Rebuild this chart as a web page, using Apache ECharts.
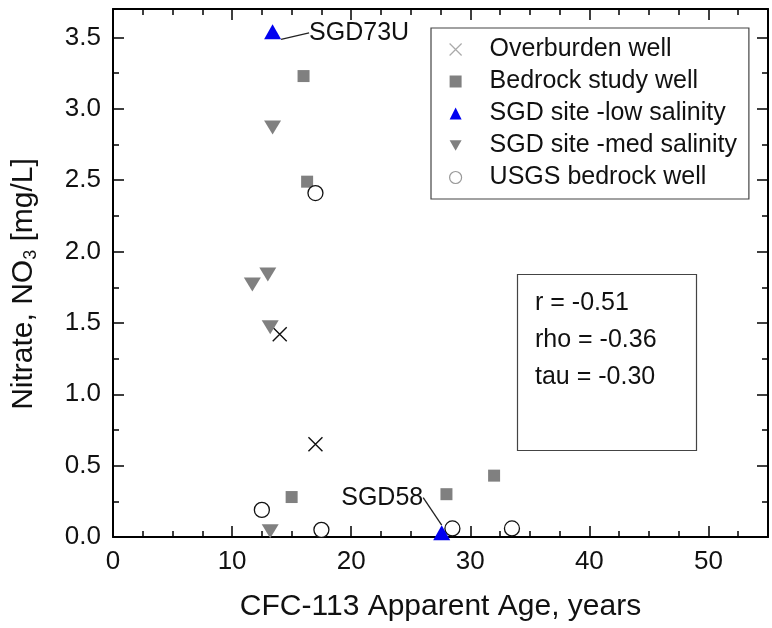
<!DOCTYPE html>
<html>
<head>
<meta charset="utf-8">
<script src="https://cdn.jsdelivr.net/npm/echarts@6/dist/echarts.min.js"></script>
<style>html,body{margin:0;padding:0;background:#fff}#c{width:772px;height:628px}</style>
</head>
<body>
<div id="c"></div>
<script>
// ---- data ----
const overburdenWell = [[14.0, 1.42], [17.0, 0.65]];
const bedrockStudyWell = [[16.0, 3.23], [16.3, 2.49], [15.0, 0.28], [28.0, 0.30], [32.0, 0.43]];
const sgdLowSalinity = [[13.4, 3.54], [27.6, 0.03]];
const sgdLowLabels = ['SGD73U', 'SGD58'];
const sgdMedSalinity = [[13.4, 2.87], [13.0, 1.84], [11.7, 1.77], [13.2, 1.47], [13.2, 0.04]];
const usgsBedrockWell = [[17.0, 2.41], [12.5, 0.19], [17.5, 0.05], [28.5, 0.06], [33.5, 0.06]];
const seriesNames = ['Overburden well', 'Bedrock study well', 'SGD site -low salinity', 'SGD site -med salinity', 'USGS bedrock well'];
const statsLines = ['r = -0.51', 'rho = -0.36', 'tau = -0.30'];
const xRange = [0, 55], xMajor = 10, xMinor = 2.5;
const yRange = [0, 3.7], yMajor = 0.5, yMinor = 0.25;

const FONT = '"Liberation Sans", Arial, Helvetica, sans-serif';
const INK = '#111';
const GRAY = '#808080';
const BLUE = '#0000f0';

function makeAxis(kind, pos, interval, major, withLabels) {
  const rng = kind === 'x' ? xRange : yRange;
  const ax = {
    type: 'value', position: pos, min: rng[0], max: rng[1], interval: interval,
    gridIndex: 0,
    splitLine: { show: false },
    axisLine: { show: major, onZero: false, lineStyle: { color: '#000', width: 2 } },
    axisTick: { show: true, inside: true, length: major ? 11 : 6, lineStyle: { color: '#000', width: 1.5 } },
    axisLabel: { show: withLabels }
  };
  if (withLabels) {
    ax.axisLabel = {
      show: true, margin: 12, fontSize: 26, color: INK, fontFamily: FONT,
      showMaxLabel: false,
      formatter: kind === 'x' ? (v => String(v)) : (v => v.toFixed(1))
    };
  }
  return ax;
}

const xAxes = [
  makeAxis('x', 'bottom', xMajor, true, true),
  makeAxis('x', 'bottom', xMinor, false, false),
  makeAxis('x', 'top', xMajor, true, false),
  makeAxis('x', 'top', xMinor, false, false)
];
Object.assign(xAxes[0], {
  name: 'CFC-113 Apparent Age, years', nameLocation: 'middle', nameGap: 55,
  nameTextStyle: { fontSize: 30, color: INK, fontFamily: FONT }
});
const yAxes = [
  makeAxis('y', 'left', yMajor, true, true),
  makeAxis('y', 'left', yMinor, false, false),
  makeAxis('y', 'right', yMajor, true, false),
  makeAxis('y', 'right', yMinor, false, false)
];
Object.assign(yAxes[0], {
  name: 'Nitrate, NO{sub|3} [mg/L]', nameLocation: 'middle', nameGap: 73,
  nameTextStyle: { fontSize: 30, color: INK, fontFamily: FONT, padding: [0, 22, 0, 0],
    rich: { sub: { fontSize: 18, color: INK, fontFamily: FONT, padding: [15, 0, 0, 0] } } }
});

const option = {
  animation: false,
  backgroundColor: '#fff',
  grid: { left: 113, right: 4, top: 9, bottom: 91, containLabel: false },
  xAxis: xAxes,
  yAxis: yAxes,
  title: {
    text: statsLines.join('\n'), left: 517, top: 274,
    padding: [11, 40, 55, 18],
    borderColor: '#444', borderWidth: 1.2, backgroundColor: '#fff',
    textStyle: { fontSize: 25, fontWeight: 'normal', lineHeight: 37, color: INK, fontFamily: FONT }
  },
  legend: {
    orient: 'vertical', left: 431, top: 28,
    padding: [9, 12, 9, 18], itemGap: 7, itemWidth: 12, itemHeight: 12,
    borderColor: '#444', borderWidth: 1.2, backgroundColor: '#fff',
    textStyle: { fontSize: 25, color: INK, fontFamily: FONT, padding: [0, 0, 0, 23] },
    data: [
      { name: seriesNames[0], itemStyle: { color: '#aaa', borderColor: '#aaa', borderWidth: 1.2 } },
      { name: seriesNames[1] },
      { name: seriesNames[2] },
      { name: seriesNames[3], icon: 'path://M0,0L10,0L5,8.7Z' },
      { name: seriesNames[4], itemStyle: { color: '#fff', borderColor: '#999', borderWidth: 1.2 } }
    ]
  },
  series: [
    {
      name: seriesNames[0], type: 'scatter', data: overburdenWell,
      symbol: 'path://M0,0L10,10M10,0L0,10', symbolSize: 14,
      itemStyle: { color: '#111', borderColor: '#111', borderWidth: 1.4, opacity: 1 }
    },
    {
      name: seriesNames[1], type: 'scatter', data: bedrockStudyWell,
      symbol: 'rect', symbolSize: 12, itemStyle: { color: GRAY, opacity: 1 }
    },
    {
      name: seriesNames[2], type: 'scatter',
      data: sgdLowSalinity.map((p, i) => ({ value: p, name: sgdLowLabels[i] })),
      symbol: 'triangle', symbolSize: [17, 15], itemStyle: { color: BLUE, opacity: 1 },
      z: 5,
      label: {
        show: true, formatter: '{b}', fontSize: 25, color: INK, fontFamily: FONT,
        position: 'right', distance: 28
      },
      labelLine: { show: true, lineStyle: { color: '#222', width: 1.3, opacity: 1 } },
      labelLayout: function (p) {
        if (p.dataIndex === 1) {
          return { x: p.rect.x - 10 - p.labelRect.width, y: p.rect.y - 40 };
        }
        return { y: p.labelRect.y + 1 };
      }
    },
    {
      name: seriesNames[3], type: 'scatter', data: sgdMedSalinity,
      symbol: 'triangle', symbolRotate: 180, symbolSize: [17, 14], itemStyle: { color: GRAY, opacity: 1 }
    },
    {
      name: seriesNames[4], type: 'scatter', data: usgsBedrockWell,
      symbol: 'circle', symbolSize: 15,
      itemStyle: { color: '#fff', borderColor: '#111', borderWidth: 1.3, opacity: 1 }
    }
  ]
};

const chart = echarts.init(document.getElementById('c'), null, { renderer: 'canvas' });
chart.setOption(option);
</script>
</body>
</html>
